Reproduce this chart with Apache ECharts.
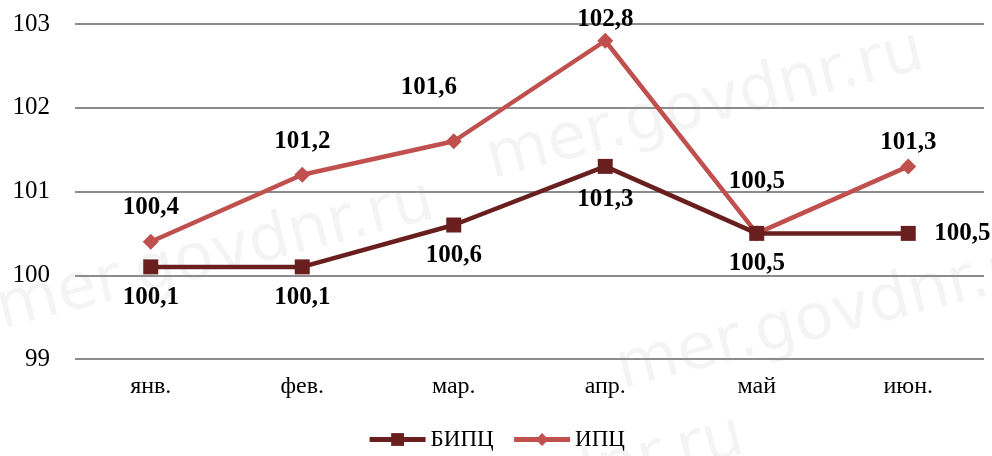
<!DOCTYPE html>
<html><head><meta charset="utf-8">
<script src="https://cdn.jsdelivr.net/npm/echarts@6/dist/echarts.min.js"></script>
<style>html,body{margin:0;padding:0;background:#fff}#c{width:992px;height:456px}</style>
</head><body><div id="c"></div>
<script>
const categories = ['янв.', 'фев.', 'мар.', 'апр.', 'май', 'июн.'];
const bipc = [100.1, 100.1, 100.6, 101.3, 100.5, 100.5];
const ipc = [100.4, 101.2, 101.6, 102.8, 100.5, 101.3];
const seriesNames = ['БИПЦ', 'ИПЦ'];

const font = '"Liberation Serif", "Times New Roman", serif';
const fmt = v => String(v).replace('.', ',');

const bipcLabelOffsets = [[0, 31], [0, 31], [0, 31], [0, 33], [0, 30], [54, 0]];
const ipcLabelOffsets = [[0, -34], [0, -33], [-25, -54], [0, -21], [0, -52], [0, -24]];

function mk(vals, offs) {
  return vals.map((v, i) => ({
    value: v,
    label: { offset: offs[i] }
  }));
}

const chart = echarts.init(document.getElementById('c'));
const wm = { fill: 'rgba(0,0,0,0.045)', font: '64px "DejaVu Sans", sans-serif' };
chart.setOption({
  animation: false,
  backgroundColor: '#fff',
  grid: { left: 75, right: 8, top: 24, bottom: 97 },
  graphic: [
    { type: 'text', left: 480, top: 20, rotation: 0.25, z: -1, style: Object.assign({ text: 'mer.govdnr.ru' }, wm) },
    { type: 'text', left: -10, top: 170, rotation: 0.25, z: -1, style: Object.assign({ text: 'mer.govdnr.ru' }, wm) },
    { type: 'text', left: 610, top: 230, rotation: 0.25, z: -1, style: Object.assign({ text: 'mer.govdnr.ru' }, wm) },
    { type: 'text', left: 300, top: 405, rotation: 0.25, z: -1, style: Object.assign({ text: 'mer.govdnr.ru' }, wm) }
  ],
  legend: {
    bottom: 0,
    left: 'center',
    itemWidth: 56,
    itemHeight: 16,
    itemGap: 18,
    lineStyle: { width: 5 },
    textStyle: { fontFamily: font, fontSize: 23, color: '#000' },
    data: seriesNames
  },
  xAxis: {
    type: 'category',
    data: categories,
    boundaryGap: true,
    axisLine: { show: false },
    axisTick: { show: false },
    axisLabel: { fontFamily: font, fontSize: 24, color: '#000', margin: 16 }
  },
  yAxis: {
    type: 'value',
    min: 99, max: 103, interval: 1,
    axisLine: { show: false },
    axisTick: { show: false },
    axisLabel: { fontFamily: font, fontSize: 25, color: '#000', margin: 25 },
    splitLine: { lineStyle: { color: '#8c8c8c', width: 2 } }
  },
  series: [
    {
      name: seriesNames[0], type: 'line', data: mk(bipc, bipcLabelOffsets),
      symbol: 'rect', symbolSize: 15,
      itemStyle: { color: '#6a1f1f' },
      lineStyle: { color: '#6a1f1f', width: 4.5 },
      label: { show: true, position: 'inside', formatter: p => fmt(p.value), fontFamily: font, fontSize: 25, fontWeight: 'bold', color: '#000' },
      z: 3
    },
    {
      name: seriesNames[1], type: 'line', data: mk(ipc, ipcLabelOffsets),
      symbol: 'diamond', symbolSize: 16,
      itemStyle: { color: '#c0504d' },
      lineStyle: { color: '#c0504d', width: 4.5 },
      label: { show: true, position: 'inside', formatter: p => fmt(p.value), fontFamily: font, fontSize: 25, fontWeight: 'bold', color: '#000' },
      z: 2
    }
  ]
});
</script></body></html>
